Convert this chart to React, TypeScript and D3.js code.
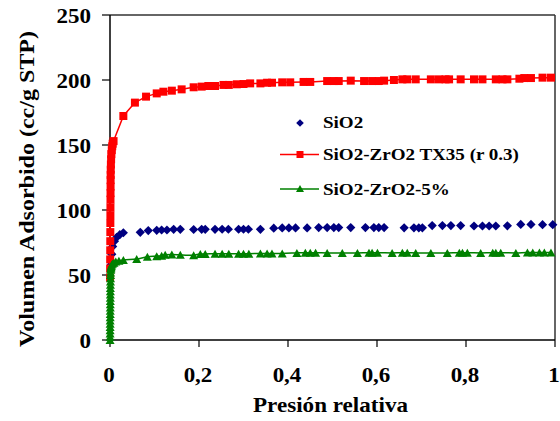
import React from "react";
import * as d3 from "d3";

// ---- data ----
const sio2X = [0.003, 0.004, 0.006, 0.01, 0.015, 0.022, 0.03, 0.068, 0.086, 0.105, 0.116, 0.128, 0.143, 0.158, 0.188, 0.206, 0.214, 0.236, 0.252, 0.266, 0.289, 0.3, 0.311, 0.338, 0.368, 0.387, 0.402, 0.417, 0.443, 0.469, 0.488, 0.503, 0.514, 0.541, 0.574, 0.593, 0.604, 0.616, 0.661, 0.683, 0.694, 0.702, 0.724, 0.747, 0.766, 0.788, 0.818, 0.837, 0.852, 0.867, 0.893, 0.923, 0.946, 0.972, 0.995];
const sio2Y = [58, 66, 72, 76, 79, 81, 82.5, 82.8, 84.2, 84.4, 84.6, 84.6, 85.1, 85.1, 85.0, 85.1, 85.1, 85.1, 85.2, 85.2, 85.2, 85.2, 85.2, 85.1, 86.0, 86.2, 86.2, 86.2, 86.2, 86.5, 86.5, 86.5, 86.5, 86.5, 86.5, 86.5, 86.5, 86.5, 86.3, 86.3, 86.3, 86.3, 88.0, 88.0, 88.0, 88.0, 87.7, 87.7, 87.7, 87.7, 87.8, 88.9, 88.9, 88.7, 88.7];

const tx35X = [0.0002, 0.0003, 0.0004, 0.0005, 0.0006, 0.0007, 0.0008, 0.0009, 0.001, 0.0011, 0.0012, 0.0013, 0.0014, 0.0015, 0.0017, 0.002, 0.0025, 0.003, 0.004, 0.005, 0.006, 0.008, 0.03, 0.056, 0.081, 0.105, 0.12, 0.139, 0.161, 0.188, 0.206, 0.221, 0.236, 0.255, 0.267, 0.285, 0.3, 0.315, 0.338, 0.353, 0.364, 0.387, 0.405, 0.435, 0.45, 0.488, 0.503, 0.514, 0.541, 0.571, 0.589, 0.604, 0.616, 0.638, 0.657, 0.668, 0.687, 0.721, 0.739, 0.754, 0.762, 0.788, 0.818, 0.837, 0.867, 0.882, 0.893, 0.92, 0.931, 0.946, 0.972, 0.991];
const tx35Y = [48, 55, 62, 69, 76, 83, 90, 96, 102, 108, 113, 118, 123, 127, 131, 135, 139, 143, 146, 149, 151, 153, 172.3, 182.6, 187.2, 189.7, 191, 191.8, 192.8, 194.4, 194.9, 195.4, 195.4, 196.2, 196.2, 196.7, 196.9, 197.4, 197.4, 197.9, 197.9, 198.2, 198.2, 198.5, 198.5, 199.2, 199.2, 199.2, 199.5, 199.2, 199.2, 199.2, 199.5, 200, 200.5, 200.5, 200.5, 200.5, 200.5, 200.5, 200.5, 200.5, 200.5, 200.5, 200.5, 200.5, 200.5, 201, 201.5, 201.5, 201.8, 201.8];

const zr5X = [0.0001, 0.00015, 0.0002, 0.00025, 0.0003, 0.00035, 0.0004, 0.00045, 0.0005, 0.00055, 0.0006, 0.00065, 0.0007, 0.00075, 0.0008, 0.00085, 0.0009, 0.00095, 0.001, 0.0011, 0.0012, 0.0014, 0.0017, 0.002, 0.0025, 0.003, 0.004, 0.006, 0.009, 0.013, 0.02, 0.03, 0.06, 0.084, 0.105, 0.116, 0.124, 0.139, 0.158, 0.188, 0.203, 0.214, 0.236, 0.252, 0.267, 0.289, 0.3, 0.312, 0.338, 0.353, 0.364, 0.387, 0.42, 0.439, 0.45, 0.462, 0.488, 0.522, 0.556, 0.582, 0.589, 0.601, 0.634, 0.657, 0.668, 0.687, 0.721, 0.758, 0.785, 0.792, 0.803, 0.833, 0.86, 0.867, 0.878, 0.912, 0.938, 0.95, 0.965, 0.976, 0.991];
const zr5Y = [0, 2.5, 5, 7.5, 10, 12.5, 15, 17.5, 20, 22.5, 25, 27.5, 30, 32.5, 35, 37.5, 40, 42.5, 45, 47.5, 50, 52, 54, 55, 56, 57, 58, 58.8, 59.5, 60.3, 61, 61.5, 62.3, 64, 64.5, 64.8, 65.5, 65.8, 65.5, 65.2, 66.2, 66.2, 66.4, 66.4, 66.4, 66.4, 66.4, 66.4, 66.6, 66.6, 66.6, 66.6, 67, 67.2, 67.2, 67.2, 67, 67, 67, 67.2, 67.2, 67.2, 67, 67.2, 67.2, 67, 67, 67, 67.2, 67.2, 67.2, 67, 67.2, 67.2, 67.2, 67, 67.3, 67.3, 67.3, 67.3, 67.3];

const xTicks = [0, 0.2, 0.4, 0.6, 0.8, 1];
const xTickLabels = ["0", "0,2", "0,4", "0,6", "0,8", "1"];
const yTicks = [0, 50, 100, 150, 200, 250];
const legendLabels = ["SiO2", "SiO2-ZrO2 TX35 (r 0.3)", "SiO2-ZrO2-5%"];

const FONT = "'Liberation Serif', 'Times New Roman', Times, serif";
const NAVY = "#000080";
const RED = "#FF0000";
const GREEN = "#008000";

const diamond = (cx: number, cy: number, r: number) =>
  `M${cx},${cy - r}L${cx + r},${cy}L${cx},${cy + r}L${cx - r},${cy}Z`;
const square = (cx: number, cy: number, r: number) =>
  `M${cx - r},${cy - r}h${2 * r}v${2 * r}h${-2 * r}Z`;
const triangle = (cx: number, cy: number, w: number, h: number) =>
  `M${cx},${cy - h / 2}L${cx + w / 2},${cy + h / 2}L${cx - w / 2},${cy + h / 2}Z`;

const ts: React.CSSProperties = { fontFamily: FONT, fontWeight: 700 };

export default function App() {
  const x = d3.scaleLinear().domain([0, 1]).range([110, 555]);
  const y = d3.scaleLinear().domain([0, 250]).range([340, 15]);

  const red = tx35X.map((v, i) => [v, tx35Y[i]] as [number, number]);
  const grn = zr5X.map((v, i) => [v, zr5Y[i]] as [number, number]);
  const blu = sio2X.map((v, i) => [v, sio2Y[i]] as [number, number]);

  const line = d3
    .line<[number, number]>()
    .x((d) => x(d[0]))
    .y((d) => y(d[1]));
  const smooth = d3
    .line<[number, number]>()
    .x((d) => x(d[0]))
    .y((d) => y(d[1]))
    .curve(d3.curveMonotoneX);

  const legY = [123, 154.5, 189];
  const legBase = [128, 160, 194.5];

  return (
    <svg
      width={560}
      height={421}
      style={{ position: "absolute", left: 0, top: 0, background: "#fff" }}
    >
      <rect x={0} y={0} width={560} height={421} fill="#fff" />
      {/* frame */}
      <line x1={x(0)} x2={x(1)} y1={y(250)} y2={y(250)} stroke="#333" strokeWidth={1.5} />
      <line x1={x(1)} x2={x(1)} y1={y(250)} y2={y(0)} stroke="#333" strokeWidth={1.5} />
      {/* axes */}
      <line x1={x(0)} x2={x(1)} y1={y(0)} y2={y(0)} stroke="#000" strokeWidth={1.5} />
      <line x1={x(0)} x2={x(0)} y1={y(250)} y2={y(0)} stroke="#000" strokeWidth={1.5} />
      {yTicks.map((t) => (
        <g key={"yt" + t}>
          <line x1={x(0) - 8} x2={x(0)} y1={y(t)} y2={y(t)} stroke="#000" strokeWidth={1.2} />
          <text
            transform={`translate(91,${y(t) + 7.5}) scale(1.15,1)`}
            textAnchor="end"
            fontSize={20}
            fill="#000"
            style={ts}
          >
            {String(t)}
          </text>
        </g>
      ))}
      {xTicks.map((t, i) => (
        <g key={"xt" + t}>
          <line x1={x(t)} x2={x(t)} y1={y(0)} y2={y(0) + 7} stroke="#000" strokeWidth={1.2} />
          <text
            transform={`translate(${x(t) - 1},382) scale(1.15,1)`}
            textAnchor="middle"
            fontSize={20}
            fill="#000"
            style={ts}
          >
            {xTickLabels[i]}
          </text>
        </g>
      ))}
      <text
        x={330.5}
        y={412}
        textAnchor="middle"
        fontSize={21}
        textLength={155}
        lengthAdjust="spacingAndGlyphs"
        style={ts}
      >
        Presión relativa
      </text>
      <text
        transform="translate(34,189) rotate(-90)"
        textAnchor="middle"
        fontSize={21}
        textLength={316}
        lengthAdjust="spacingAndGlyphs"
        style={ts}
      >
        Volumen Adsorbido (cc/g STP)
      </text>

      {/* SiO2 markers */}
      {blu.map((d, i) => (
        <path key={"b" + i} d={diamond(x(d[0]), y(d[1]), 4.6)} fill={NAVY} />
      ))}
      {/* TX35 line + markers */}
      <path d={line(red) || ""} fill="none" stroke={RED} strokeWidth={1.5} />
      {red.map((d, i) => (
        <path key={"r" + i} d={square(x(d[0]), y(d[1]), 4)} fill={RED} />
      ))}
      {/* 5% line + markers */}
      <path d={smooth(grn) || ""} fill="none" stroke={GREEN} strokeWidth={1.5} />
      {grn.map((d, i) => (
        <path key={"g" + i} d={triangle(x(d[0]), y(d[1]), 9, 8)} fill={GREEN} />
      ))}

      {/* legend */}
      <path d={diamond(300, legY[0], 3.8)} fill={NAVY} />
      <line x1={280} x2={319} y1={legY[1]} y2={legY[1]} stroke={RED} strokeWidth={1.5} />
      <path d={square(300, legY[1], 3.5)} fill={RED} />
      <line x1={280} x2={319} y1={legY[2]} y2={legY[2]} stroke={GREEN} strokeWidth={1.5} />
      <path d={triangle(300, legY[2] - 0.5, 8, 7)} fill={GREEN} />
      {legendLabels.map((l, i) => (
        <text
          key={l}
          transform={`translate(323,${legBase[i]}) scale(1.19,1)`}
          fontSize={16}
          fill="#000"
          style={ts}
        >
          {l}
        </text>
      ))}
    </svg>
  );
}
